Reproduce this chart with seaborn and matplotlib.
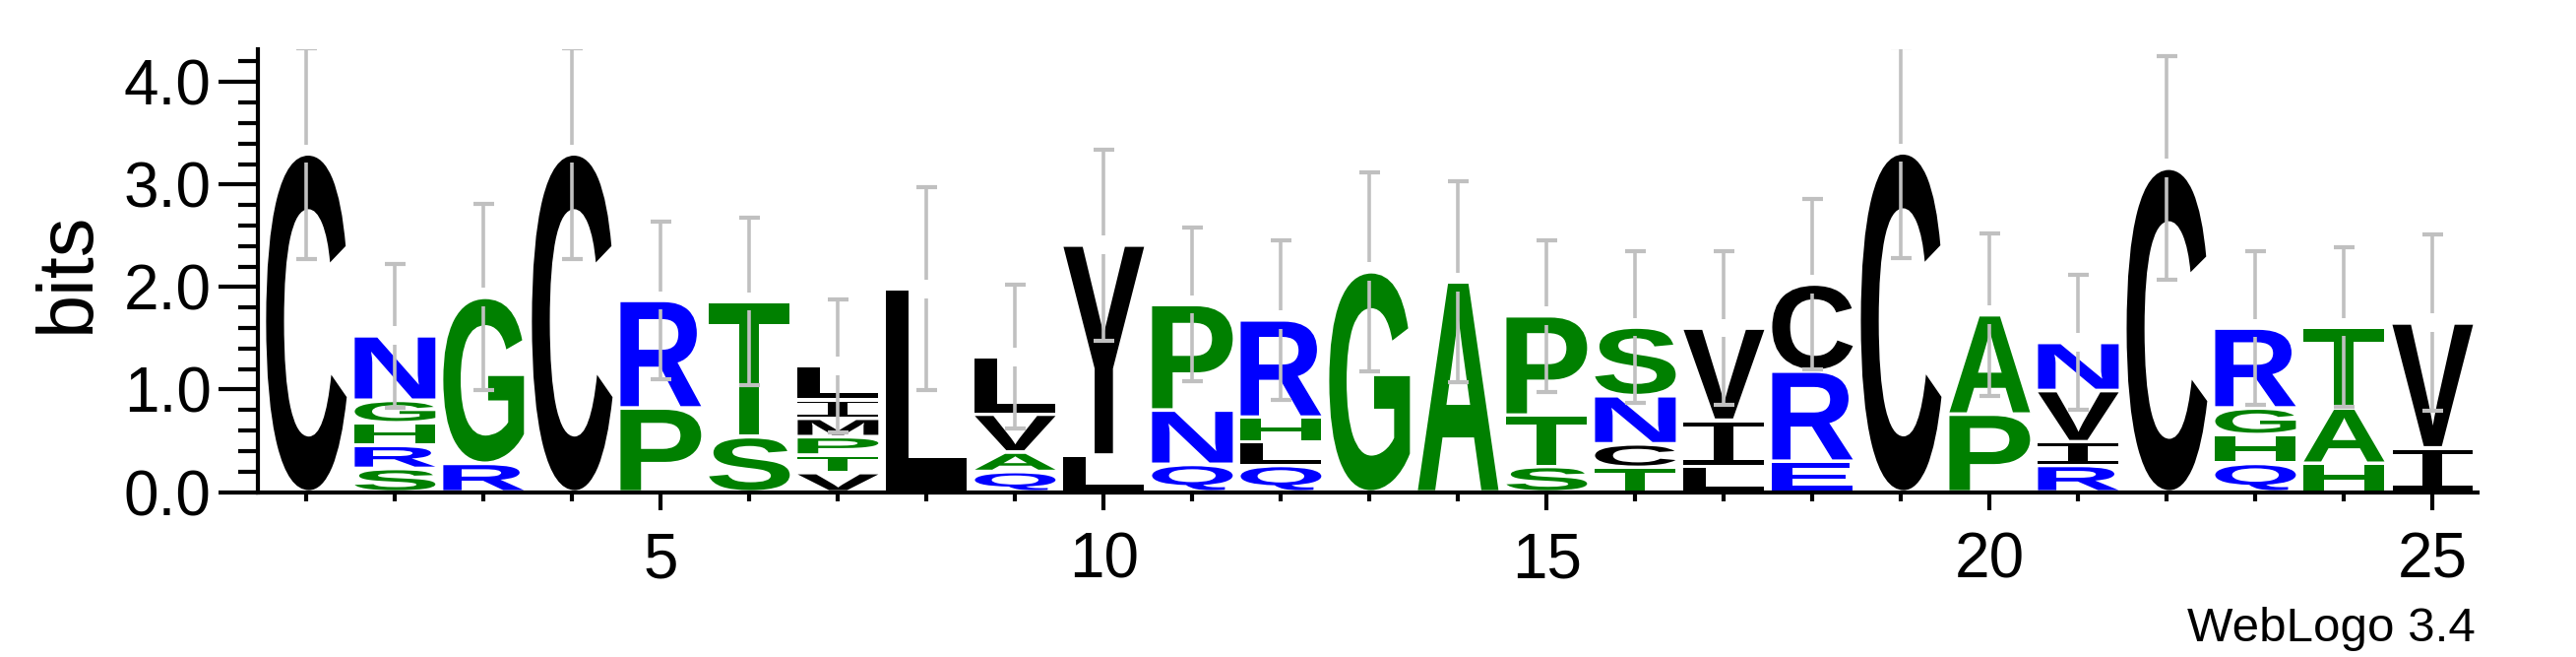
import numpy as np
import matplotlib
matplotlib.use("Agg")
import matplotlib.pyplot as plt
import seaborn as sns
from matplotlib.textpath import TextPath
from matplotlib.font_manager import FontProperties
from matplotlib.patches import PathPatch
from matplotlib.transforms import Affine2D
from matplotlib.ticker import MultipleLocator, FixedLocator

# ---------------- data (letters listed bottom -> top) ----------------
positions = list(range(1, 26))
stack_letters = ["C", "SRHGN", "RG", "C", "PR", "ST", "VTPMIL", "L", "QAVL", "LY",
                 "QNP", "QLHR", "G", "A", "STP", "TCNS", "LIV", "ERC", "C", "PA",
                 "RIVN", "C", "QHGR", "HAT", "IV"]
stack_heights = [
    [3.30],
    [0.23, 0.225, 0.22, 0.22, 0.63],
    [0.28, 1.62],
    [3.30],
    [0.82, 1.05],
    [0.54, 1.32],
    [0.19, 0.17, 0.18, 0.18, 0.18, 0.33],
    [1.98],
    [0.20, 0.19, 0.37, 0.56],
    [0.36, 2.05],
    [0.27, 0.53, 1.03],
    [0.26, 0.23, 0.24, 0.95],
    [2.15],
    [2.05],
    [0.25, 0.50, 0.97],
    [0.24, 0.23, 0.47, 0.67],
    [0.25, 0.45, 0.90],
    [0.30, 0.88, 0.85],
    [3.31],
    [0.76, 0.97],
    [0.26, 0.23, 0.50, 0.47],
    [3.16],
    [0.28, 0.28, 0.26, 0.78],
    [0.28, 0.54, 0.79],
    [0.43, 1.22],
]
error_half = [1.03, 0.70, 0.91, 1.03, 0.77, 0.82, 0.65, 0.99, 0.70, 0.93,
              0.75, 0.78, 0.97, 0.98, 0.74, 0.74, 0.75, 0.83, 1.03, 0.79,
              0.66, 1.09, 0.75, 0.78, 0.86]
letter_colors = {
    "C": "#000000", "L": "#000000", "V": "#000000", "I": "#000000",
    "M": "#000000", "Y": "#000000",
    "A": "#008000", "G": "#008000", "S": "#008000", "T": "#008000",
    "P": "#008000", "H": "#008000",
    "N": "#0000FF", "Q": "#0000FF", "R": "#0000FF", "E": "#0000FF",
}
y_ticks = [0, 1, 2, 3, 4]
y_tick_labels = ["0.0", "1.0", "2.0", "3.0", "4.0"]
x_ticks = [5, 10, 15, 20, 25]

# ---------------- style ----------------
sns.set_style("ticks")
plt.rcParams["font.family"] = ["Liberation Sans", "DejaVu Sans"]
for k in ("text.color", "axes.labelcolor", "xtick.color", "ytick.color",
          "axes.edgecolor", "xtick.labelcolor", "ytick.labelcolor"):
    plt.rcParams[k] = "black"

fig = plt.figure(figsize=(26.17, 6.67), dpi=100)
ax = fig.add_axes([262 / 2617, (667 - 499.5) / 667, (2517 - 262) / 2617, 449.5 / 667])

bold = FontProperties(family="Liberation Sans", weight="bold")
serif_i = FontProperties(family="DejaVu Sans Mono", weight="normal")
_cache = {}


def glyph(ch):
    if ch not in _cache:
        prop = serif_i if ch == "I" else bold
        _cache[ch] = TextPath((0, 0), ch, size=1, prop=prop)
    return _cache[ch]


def draw_letter(ch, x, y0, h, width=0.91, pad=0.018):
    p = glyph(ch)
    bb = p.get_extents()
    hh = max(h - 2 * pad, 0.01)
    t = (Affine2D().translate(-bb.x0, -bb.y0)
         .scale(width / bb.width, hh / bb.height)
         .translate(x - width / 2, y0 + pad))
    ax.add_patch(PathPatch(t.transform_path(p), facecolor=letter_colors[ch],
                           edgecolor="none", lw=0, zorder=2))


totals = []
for x, letters, heights in zip(positions, stack_letters, stack_heights):
    y = 0.0
    for ch, h in zip(letters, heights):
        draw_letter(ch, x, y, h)
        y += h
    totals.append(y)

# error bars (with a small gap around the stack top, as in the original)
gap = 0.09
cap = 0.115
ecol = "#c0c0c0"
for x, top, e in zip(positions, totals, error_half):
    ax.vlines(x, top + gap, top + e, color=ecol, lw=2.6, zorder=3)
    ax.vlines(x, top - e, top - gap, color=ecol, lw=2.6, zorder=3)
    ax.hlines([top + e, top - e], x - cap, x + cap, color=ecol, lw=3.0, zorder=3)

# ---------------- axes ----------------
ax.set_xlim(0.452, 25.506)
ax.set_ylim(0, 4.32)
sns.despine(ax=ax)
for s in ("left", "bottom"):
    ax.spines[s].set_linewidth(3.0)
    ax.spines[s].set_color("black")

ax.yaxis.set_major_locator(FixedLocator(y_ticks))
ax.set_yticklabels(y_tick_labels)
ax.yaxis.set_minor_locator(MultipleLocator(0.2))
ax.xaxis.set_major_locator(FixedLocator(x_ticks))
ax.set_xticklabels([str(v) for v in x_ticks])
ax.xaxis.set_minor_locator(MultipleLocator(1))

ax.tick_params(axis="y", which="major", direction="out", length=29, width=3.0,
               labelsize=46, pad=5, color="black", labelcolor="black")
ax.tick_params(axis="y", which="minor", direction="out", length=14.5, width=3.0,
               color="black")
ax.tick_params(axis="x", which="major", direction="out", length=13, width=3.0,
               labelsize=46, pad=16, color="black", labelcolor="black")
ax.tick_params(axis="x", which="minor", direction="out", length=6.5, width=3.0,
               color="black")
ax.set_facecolor("white")

fig.text(69 / 2617, (667 - 276) / 667, "bits", rotation=90, fontsize=57,
         ha="center", va="center", color="black")
fig.text(2515 / 2617, 16 / 667, "WebLogo 3.4", fontsize=35.5,
         ha="right", va="baseline", color="black")

fig.savefig("out.png", dpi=100, facecolor="white")
